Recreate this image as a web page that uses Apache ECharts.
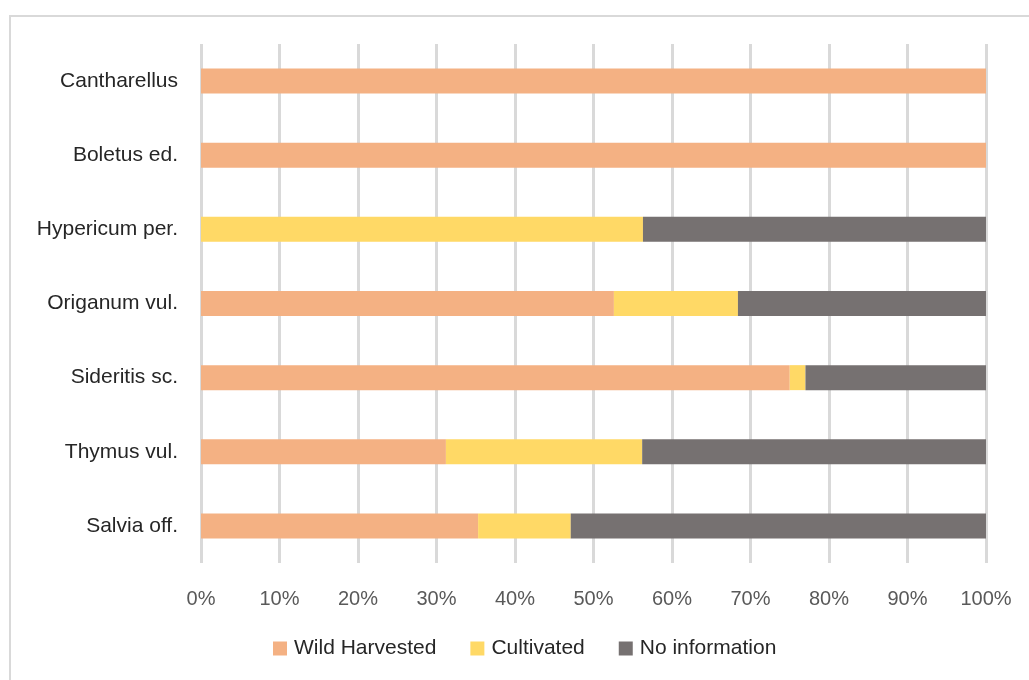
<!DOCTYPE html>
<html>
<head>
<meta charset="utf-8">
<script src="https://cdn.jsdelivr.net/npm/echarts@6/dist/echarts.min.js"></script>
<style>
  body { margin: 0; background: #fff; }
  .frame {
    position: absolute; left: 9px; top: 15px; width: 1040px; height: 700px;
    border: 2px solid #d9d9d9; box-sizing: border-box;
  }
  #chart { position: absolute; left: 0; top: 0; width: 1029px; height: 680px; }
</style>
</head>
<body>
<div class="frame"></div>
<div id="chart"></div>
<script>
// categories listed bottom to top
const categories = ["Salvia off.", "Thymus vul.", "Sideritis sc.", "Origanum vul.", "Hypericum per.", "Boletus ed.", "Cantharellus"];
const wildHarvested = [35.3, 31.2, 75.0, 52.6, 0, 100, 100];
const cultivated = [11.8, 25.0, 2.0, 15.8, 56.3, 0, 0];
const noInformation = [52.9, 43.8, 23.0, 31.6, 43.7, 0, 0];
const tickLabels = ["0%", "10%", "20%", "30%", "40%", "50%", "60%", "70%", "80%", "90%", "100%"];

const chart = echarts.init(document.getElementById("chart"));
const font = "Liberation Sans";

function bar(name, data, color) {
  return {
    name: name,
    type: "bar",
    stack: "total",
    barWidth: 25,
    itemStyle: { color: color },
    data: data
  };
}

chart.setOption({
  animation: false,
  grid: { left: 201, right: 43, top: 44, height: 519 },
  legend: {
    top: 633,
    left: 268,
    itemWidth: 14,
    itemHeight: 14,
    itemGap: 34,
    icon: "rect",
    textStyle: { fontFamily: font, fontSize: 21, color: "#262626", padding: [0, 0, 0, 2] },
    data: ["Wild Harvested", "Cultivated", "No information"]
  },
  xAxis: {
    type: "value",
    min: 0,
    max: 100,
    interval: 10,
    axisLine: { show: false },
    axisTick: { show: false },
    splitLine: { lineStyle: { color: "#d9d9d9", width: 3 } },
    axisLabel: {
      margin: 26,
      fontFamily: font,
      fontSize: 20,
      color: "#595959",
      formatter: function (v) { return tickLabels[Math.round(v / 10)]; }
    }
  },
  yAxis: {
    type: "category",
    data: categories,
    axisLine: { show: false },
    axisTick: { show: false },
    axisLabel: { margin: 23, fontFamily: font, fontSize: 21, color: "#262626" }
  },
  series: [
    bar("Wild Harvested", wildHarvested, "#f4b183"),
    bar("Cultivated", cultivated, "#ffd966"),
    bar("No information", noInformation, "#767171")
  ]
});
</script>
</body>
</html>
